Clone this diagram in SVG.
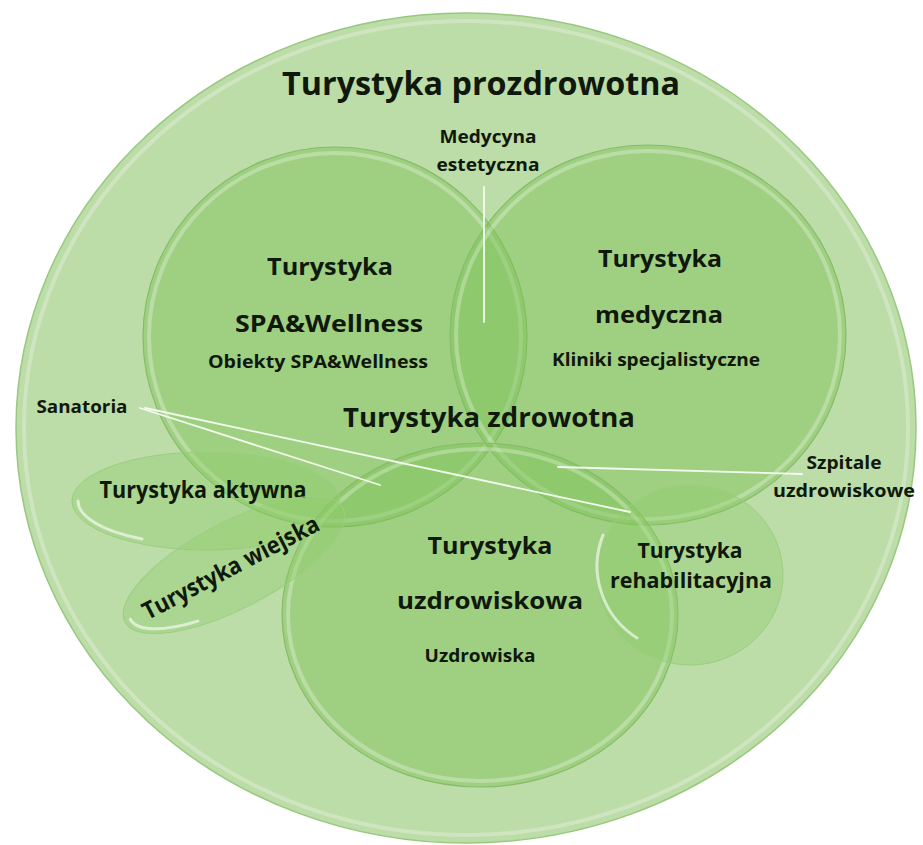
<svg xmlns="http://www.w3.org/2000/svg" width="923" height="845" viewBox="0 0 923 845">
<style>
 text{font-family:"Open Sans","Liberation Sans",sans-serif;fill:#0f180b;text-anchor:middle;font-weight:700}
 .s{font-weight:700}
 .rim{fill:none;stroke:#ffffff;stroke-opacity:.28;stroke-width:4}
 .hl{fill:none;stroke:#ffffff;stroke-opacity:.6;stroke-width:3;stroke-linecap:round}
 .inner{fill:#7cc055;fill-opacity:.45;stroke:#86bb69;stroke-width:1.2}
 .small{fill:#8ccb66;fill-opacity:.35;stroke:#9ccd80;stroke-width:1}
 #connectors line{stroke:#f3fbee;stroke-width:1.8;stroke-linecap:round}
</style>
<rect width="923" height="845" fill="#ffffff"/>

<g id="prozdrowotna">
 <ellipse cx="466" cy="428" rx="450" ry="415" fill="#bcdca8" stroke="#98c87e" stroke-width="1.5"/>
 <ellipse cx="466" cy="428" rx="442" ry="407" class="rim"/>
 <text x="481" y="95" font-size="32" textLength="398" lengthAdjust="spacingAndGlyphs">Turystyka prozdrowotna</text>
</g>

<g id="spa-wellness">
 <ellipse cx="335" cy="337" rx="192" ry="190" class="inner"/>
 <ellipse cx="335" cy="337" rx="186" ry="184" class="rim"/>
 <text x="330" y="275" font-size="24" textLength="126" lengthAdjust="spacingAndGlyphs">Turystyka</text>
 <text x="329" y="332" font-size="24" textLength="188" lengthAdjust="spacingAndGlyphs">SPA&amp;Wellness</text>
 <text class="s" x="318" y="368" font-size="18" textLength="220" lengthAdjust="spacingAndGlyphs">Obiekty SPA&amp;Wellness</text>
</g>

<g id="medyczna">
 <ellipse cx="648" cy="335" rx="198" ry="190" class="inner"/>
 <ellipse cx="648" cy="335" rx="192" ry="184" class="rim"/>
 <text x="660" y="267" font-size="24" textLength="124" lengthAdjust="spacingAndGlyphs">Turystyka</text>
 <text x="659" y="323" font-size="24" textLength="128" lengthAdjust="spacingAndGlyphs">medyczna</text>
 <text class="s" x="656" y="366" font-size="18" textLength="208" lengthAdjust="spacingAndGlyphs">Kliniki specjalistyczne</text>
</g>

<g id="uzdrowiskowa">
 <ellipse cx="480" cy="615" rx="198" ry="172" class="inner"/>
 <ellipse cx="480" cy="615" rx="192" ry="166" class="rim"/>
 <text x="490" y="554" font-size="24" textLength="125" lengthAdjust="spacingAndGlyphs">Turystyka</text>
 <text x="490" y="609" font-size="24" textLength="186" lengthAdjust="spacingAndGlyphs">uzdrowiskowa</text>
 <text class="s" x="480" y="662" font-size="18" textLength="111" lengthAdjust="spacingAndGlyphs">Uzdrowiska</text>
</g>

<g id="rehabilitacyjna">
 <ellipse cx="690" cy="575" rx="93" ry="90" class="small"/>
 <path class="hl" d="M 603 535 A 88 86 0 0 0 637 638"/>
 <text x="690" y="558" font-size="22" textLength="105" lengthAdjust="spacingAndGlyphs">Turystyka</text>
 <text x="691" y="588" font-size="22" textLength="162" lengthAdjust="spacingAndGlyphs">rehabilitacyjna</text>
</g>

<g id="aktywna">
 <ellipse cx="206" cy="501" rx="134" ry="49" class="small"/>
 <path class="hl" d="M 78 501 A 128 44 0 0 0 142 539"/>
 <text x="203" y="498" font-size="23" textLength="207" lengthAdjust="spacingAndGlyphs">Turystyka aktywna</text>
</g>

<g id="wiejska">
 <g transform="translate(234 565) rotate(-27.6)">
  <ellipse cx="0" cy="0" rx="123" ry="43" class="small"/>
  <path class="hl" d="M -117 0 A 117 38 0 0 0 -58 33"/>
  <text x="-4" y="9" font-size="24" textLength="196" lengthAdjust="spacingAndGlyphs">Turystyka wiejska</text>
 </g>
</g>

<g id="zdrowotna">
 <text x="489" y="427" font-size="26" textLength="292" lengthAdjust="spacingAndGlyphs">Turystyka zdrowotna</text>
</g>

<g id="medycyna-estetyczna">
 <text class="s" x="488" y="143" font-size="18" textLength="97" lengthAdjust="spacingAndGlyphs">Medycyna</text>
 <text class="s" x="488" y="171" font-size="18" textLength="103" lengthAdjust="spacingAndGlyphs">estetyczna</text>
</g>

<g id="sanatoria">
 <text class="s" x="82" y="413" font-size="17" textLength="91" lengthAdjust="spacingAndGlyphs">Sanatoria</text>
</g>

<g id="szpitale">
 <text class="s" x="844" y="469" font-size="18" textLength="75" lengthAdjust="spacingAndGlyphs">Szpitale</text>
 <text class="s" x="844" y="497" font-size="18" textLength="142" lengthAdjust="spacingAndGlyphs">uzdrowiskowe</text>
</g>

<g id="connectors">
 <line x1="484" y1="187" x2="484" y2="322"/>
 <line x1="140" y1="408" x2="380" y2="485"/>
 <line x1="145" y1="408" x2="630" y2="512"/>
 <line x1="558" y1="467" x2="802" y2="474"/>
</g>
</svg>
